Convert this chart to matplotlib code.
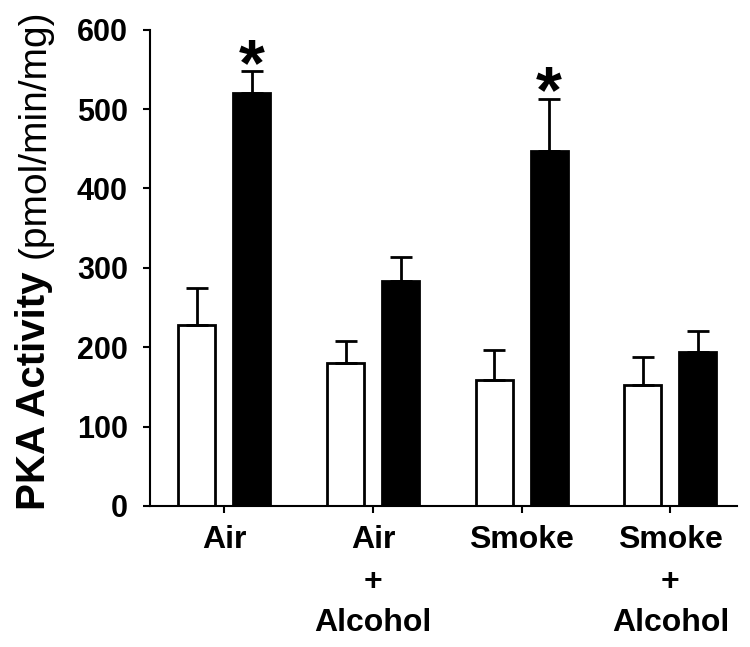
import matplotlib

matplotlib.use("Agg")
import matplotlib.pyplot as plt
import numpy as np

plt.rcParams['font.family'] = ['Liberation Sans', 'DejaVu Sans']

# PKA activity (pmol/min/mg)
groups = ["Air", "Air\n+\nAlcohol", "Smoke", "Smoke\n+\nAlcohol"]
white_mean = [228, 180, 159, 152]
white_err = [46, 28, 38, 36]
black_mean = [520, 284, 447, 194]
black_err = [28, 30, 66, 27]
significant = [True, False, True, False]

x = np.arange(len(groups))
width = 0.25
off = 0.185

fig = plt.figure(figsize=(7.5, 6.47), dpi=100)
ax = fig.add_axes([0.2, 0.218, 0.783, 0.736])

ekw = dict(elinewidth=2, capthick=2, ecolor='black')
ax.bar(x - off, white_mean, width, color='white', edgecolor='black', linewidth=2,
       yerr=[np.zeros(len(x)), white_err], capsize=8, error_kw=ekw, zorder=2)
ax.bar(x + off, black_mean, width, color='black', edgecolor='black', linewidth=2,
       yerr=[np.zeros(len(x)), black_err], capsize=8, error_kw=ekw, zorder=2)

for i, sig in enumerate(significant):
    if sig:
        ax.annotate('*', (x[i] + off, black_mean[i] + black_err[i]),
                    xytext=(0, -20), textcoords='offset points',
                    ha='center', va='bottom', fontsize=48, fontweight='bold')

ax.set_xlim(-0.5, 3.45)
ax.set_ylim(0, 600)
ax.set_yticks(np.arange(0, 601, 100))
ax.set_xticks(x)
ax.set_xticklabels(groups, fontsize=23, fontweight='bold', linespacing=1.5)
for lab in ax.get_yticklabels():
    lab.set_fontsize(22)
    lab.set_fontweight('bold')

ax.spines['top'].set_visible(False)
ax.spines['right'].set_visible(False)
ax.spines['left'].set_linewidth(1.5)
ax.spines['bottom'].set_linewidth(1.5)
ax.tick_params(axis='y', length=5, width=1.5, pad=11)
ax.tick_params(axis='x', length=5, width=1.5, pad=9)

# y label: bold part + regular part
t1 = fig.text(0.06, 0.212, 'PKA Activity', rotation=90, rotation_mode='anchor',
              ha='left', va='baseline', fontsize=29, fontweight='bold')
fig.canvas.draw()
bb = t1.get_window_extent().transformed(fig.transFigure.inverted())
fig.text(0.06, bb.y1 + 0.02, '(pmol/min/mg)', rotation=90, rotation_mode='anchor',
         ha='left', va='baseline', fontsize=28)

plt.savefig("out.png", dpi=100)
